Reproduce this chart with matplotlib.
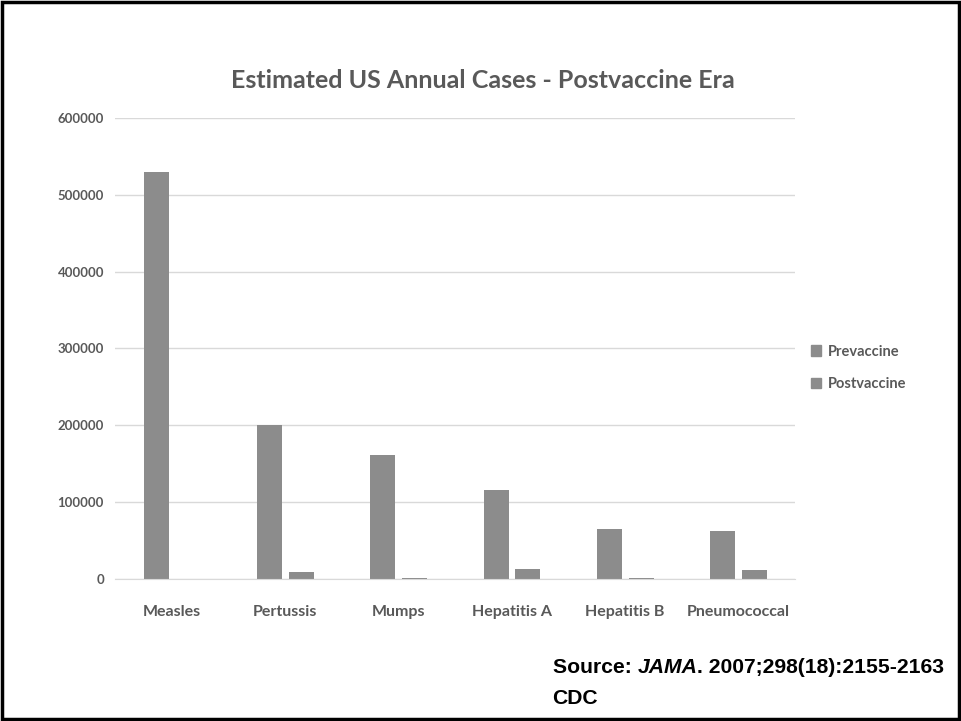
import matplotlib
matplotlib.use("Agg")
import matplotlib.pyplot as plt
import numpy as np
from matplotlib.patches import Patch, Rectangle

diseases = ["Measles", "Pertussis", "Mumps", "Hepatitis A", "Hepatitis B", "Pneumococcal"]
prevaccine = [530000, 201000, 162000, 116000, 65000, 62500]
postvaccine = [0, 9000, 1500, 13000, 1500, 11500]
yticks = [0, 100000, 200000, 300000, 400000, 500000, 600000]

narrow = ["Lato", "DejaVu Sans"]
gray_text = "#595959"
bar_color = "#8c8c8c"

fig = plt.figure(figsize=(9.61, 7.21), dpi=100)
ax = fig.add_axes([0.1197, 0.197, 0.7073, 0.6393])

x = np.arange(len(diseases))
w = 0.22
ax.bar(x - 0.135, prevaccine, w, color=bar_color, label="Prevaccine")
ax.bar(x + 0.145, postvaccine, w, color=bar_color, label="Postvaccine")

ax.set_xlim(-0.5, len(diseases) - 0.5)
ax.set_ylim(0, 600000)
ax.set_yticks(yticks)
ax.set_yticklabels([str(v) for v in yticks], family=narrow, fontsize=9.5,
                   fontweight="bold", color=gray_text)
ax.set_xticks(x)
ax.set_xticklabels(diseases, family=narrow, fontsize=11.5, fontweight="bold", color=gray_text)
ax.tick_params(axis="both", length=0)
ax.tick_params(axis="x", pad=19)
ax.tick_params(axis="y", pad=8)
ax.grid(axis="y", color="#d9d9d9", linewidth=1)
ax.set_axisbelow(True)
for s in ["top", "right", "left"]:
    ax.spines[s].set_visible(False)
ax.spines["bottom"].set_color("#d9d9d9")

fig.text(0.502, 0.889, "Estimated US Annual Cases - Postvaccine Era", ha="center", va="center",
         family=narrow, fontsize=18, fontweight="bold", color=gray_text)

handles = [Patch(color=bar_color, label="Prevaccine"), Patch(color=bar_color, label="Postvaccine")]
leg = fig.legend(handles=handles, loc="center left", bbox_to_anchor=(0.83, 0.49),
                 frameon=False, handlelength=0.7, handleheight=0.7, handletextpad=0.45,
                 labelspacing=1.25, prop={"family": narrow, "size": 10.5, "weight": "bold"})
for t in leg.get_texts():
    t.set_color(gray_text)

src_font = ["Liberation Sans", "DejaVu Sans"]
src_y = 0.0666
t1 = fig.text(0.575, src_y, "Source: ", ha="left", va="baseline",
              family=src_font, fontsize=15.2, fontweight="bold", color="black")
t2 = fig.text(0, src_y, "JAMA", ha="left", va="baseline", family=src_font, fontsize=15.2,
              fontweight="bold", style="italic", color="black")
t3 = fig.text(0, src_y, ". 2007;298(18):2155-2163", ha="left", va="baseline", family=src_font,
              fontsize=15.2, fontweight="bold", color="black")
fig.canvas.draw()
r = fig.canvas.get_renderer()
inv = fig.transFigure.inverted()
b1 = t1.get_window_extent(r)
t2.set_x(inv.transform((b1.x1, 0))[0])
b2 = t2.get_window_extent(r)
t3.set_x(inv.transform((b2.x1, 0))[0])
fig.text(0.575, 0.0236, "CDC", ha="left", va="baseline", family=src_font,
         fontsize=15.2, fontweight="bold", color="black")

fig.patches.append(Rectangle((0.002, 0.003), 0.996, 0.994, transform=fig.transFigure,
                             fill=False, edgecolor="black", linewidth=2.5))

fig.savefig("out.png", dpi=100)
